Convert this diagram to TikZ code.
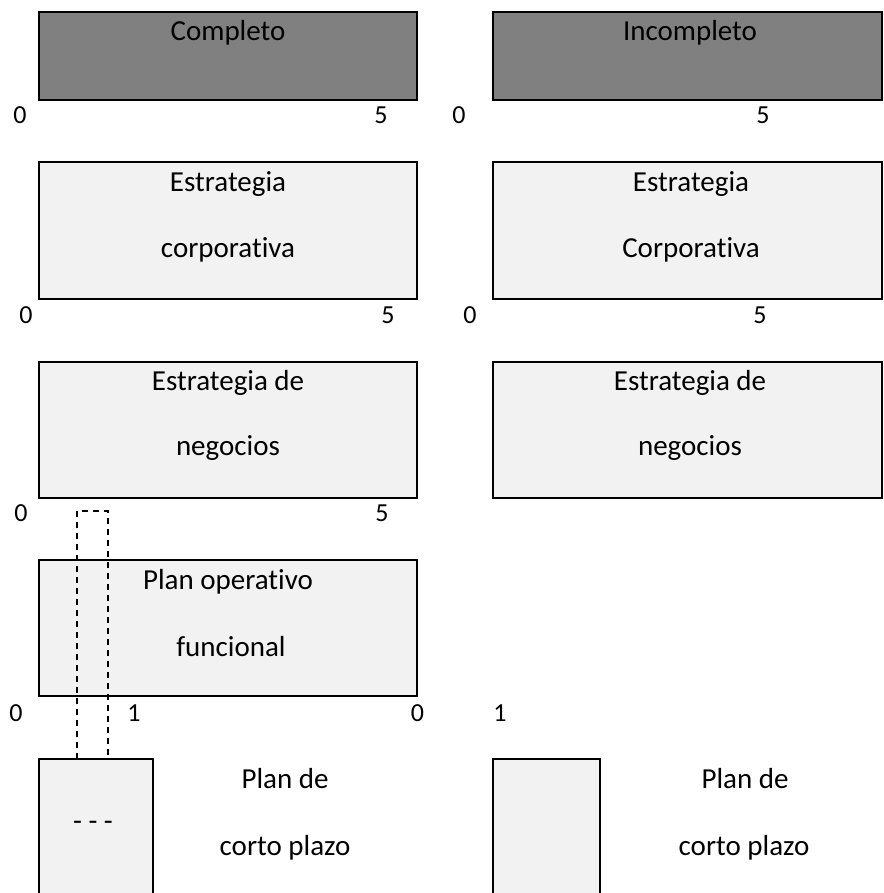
\documentclass[tikz,border=0pt]{standalone}
\usepackage{fontspec}
\setmainfont{Carlito}[Ligatures=NoCommon]
\definecolor{darkfill}{HTML}{808080}
\definecolor{lightfill}{HTML}{F2F2F2}
\begin{document}
\begin{tikzpicture}[x=1pt,y=-1pt,
  box/.style={draw=black,line width=2pt,fill=lightfill,rectangle,inner sep=0pt,outer sep=0pt},
  darkbox/.style={box,fill=darkfill},
  txt/.style={font=\fontsize{29}{35}\selectfont,inner sep=0pt,anchor=base,text=black},
  num/.style={font=\fontsize{26}{30}\selectfont,inner sep=0pt,anchor=base,text=black},
  dsh/.style={draw=black,line width=1.4pt,dash pattern=on 6pt off 5pt}]
\clip (0,0) rectangle (883,893);
\fill[white] (0,0) rectangle (883,893);
% row 1
\node[darkbox,minimum width=378pt,minimum height=88pt] (b1l) at (228,56) {};
\node[darkbox,minimum width=389pt,minimum height=88pt] (b1r) at (687.5,56) {};
\node[txt] (t1l) at (228,41) {Completo};
\node[txt] (t1r) at (690,41) {Incompleto};
\node[num] (n1a) at (20,124) {0};
\node[num] (n1b) at (381,124) {5};
\node[num] (n1c) at (459,124) {0};
\node[num] (n1d) at (763,124) {5};
% row 2
\node[box,minimum width=378pt,minimum height=137pt] (b2l) at (228,230.5) {};
\node[box,minimum width=389pt,minimum height=137pt] (b2r) at (687.5,230.5) {};
\node[txt] (t2la) at (228,192) {Estrategia};
\node[txt] (t2lb) at (228,258) {corporativa};
\node[txt] (t2ra) at (691,192) {Estrategia};
\node[txt] (t2rb) at (691,258) {Corporativa};
\node[num] (n2a) at (26,323) {0};
\node[num] (n2b) at (388,323) {5};
\node[num] (n2c) at (470,323) {0};
\node[num] (n2d) at (760,323) {5};
% row 3
\node[box,minimum width=378pt,minimum height=136pt] (b3l) at (228,430) {};
\node[box,minimum width=389pt,minimum height=136pt] (b3r) at (687.5,430) {};
\node[txt] (t3la) at (228,390) {Estrategia de};
\node[txt] (t3lb) at (228,455) {negocios};
\node[txt] (t3ra) at (690,390) {Estrategia de};
\node[txt] (t3rb) at (690,455) {negocios};
\node[num] (n3a) at (21,521) {0};
\node[num] (n3b) at (382,521) {5};
% row 4
\node[box,minimum width=378pt,minimum height=136pt] (b4) at (228,628) {};
\node[txt] (t4a) at (228,589) {Plan operativo};
\node[txt] (t4b) at (231,656) {funcional};
\node[num] (n4a) at (16,721) {0};
\node[num] (n4b) at (134,721) {1};
\node[num] (n4c) at (417.5,721) {0};
\node[num] (n4d) at (500,721) {1};
% row 5
\node[box,minimum width=114pt,minimum height=160pt] (b5l) at (96,839) {};
\node[box,minimum width=107pt,minimum height=160pt] (b5r) at (546.5,839) {};
\node[txt] (t5la) at (285,788) {Plan de};
\node[txt] (t5lb) at (285,855) {corto plazo};
\node[txt] (t5ra) at (745,788) {Plan de};
\node[txt] (t5rb) at (744,855) {corto plazo};
\node[txt,anchor=center] (dots) at (93,826) {- - -};
% dashed strip
\coordinate (d1) at (77,759);
\coordinate (d2) at (108,759);
\draw[dsh] (d1) -- (77,511) -- (108,511) -- (d2);
\end{tikzpicture}
\end{document}
